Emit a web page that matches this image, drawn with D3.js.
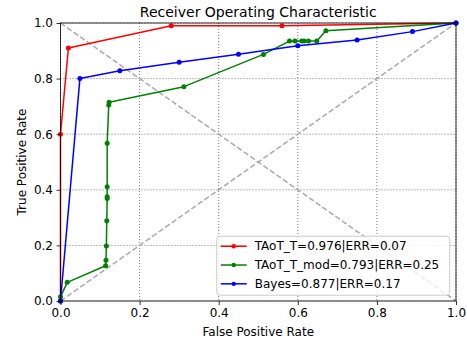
<!DOCTYPE html>
<html>
<head>
<meta charset="utf-8">
<script src="https://cdn.jsdelivr.net/npm/d3@7"></script>
<style>
  body { margin: 0; background: #fff; }
  svg { font-family: "DejaVu Sans", sans-serif; }
</style>
</head>
<body>
<svg id="chart" width="467" height="347"></svg>
<script>
"use strict";

// ROC points
const taotFpr = [0, 0, 0.02, 0.28, 0.56, 1];
const taotTpr = [0, 0.6, 0.91, 0.99, 0.99, 1];

const modFpr = [0, 0, 0.017, 0.114, 0.115, 0.116, 0.117, 0.118, 0.118, 0.118, 0.118, 0.122, 0.123, 0.312,
    0.513, 0.579, 0.593, 0.61, 0.616, 0.627, 0.648, 0.671, 1];
const modTpr = [0, 0.015, 0.067, 0.127, 0.147, 0.198, 0.289, 0.369, 0.375, 0.411, 0.567, 0.705, 0.715, 0.771,
    0.887, 0.935, 0.935, 0.935, 0.935, 0.935, 0.935, 0.972, 1];

const bayesFpr = [0, 0.049, 0.15, 0.3, 0.45, 0.6, 0.75, 0.89, 1];
const bayesTpr = [0, 0.8, 0.828, 0.859, 0.888, 0.918, 0.939, 0.969, 1];

const seriesNames = ["TAoT_T=0.976|ERR=0.07", "TAoT_T_mod=0.793|ERR=0.25", "Bayes=0.877|ERR=0.17"];
const seriesColors = ["#ff0000", "#008000", "#0000ff"];
const tickValues = [0, 0.2, 0.4, 0.6, 0.8, 1.0];

const zip = (xs, ys) => xs.map((x, i) => [x, ys[i]]);
const series = [
    zip(taotFpr, taotTpr),
    zip(modFpr, modTpr),
    zip(bayesFpr, bayesTpr)
];

const svg = d3.select("#chart");
const margin = { left: 60.5, right: 11, top: 23, bottom: 46 };
const width = 467 - margin.left - margin.right;
const height = 347 - margin.top - margin.bottom;

const x = d3.scaleLinear().domain([0, 1]).range([0, width]);
const y = d3.scaleLinear().domain([0, 1]).range([height, 0]);

const g = svg.append("g").attr("transform", `translate(${margin.left},${margin.top})`);

// grid
g.append("g")
    .selectAll("line")
    .data(tickValues)
    .join("line")
    .attr("x1", (d) => x(d)).attr("x2", (d) => x(d))
    .attr("y1", 0).attr("y2", height)
    .attr("stroke", "#555").attr("stroke-width", 0.8)
    .attr("stroke-dasharray", "1,2");
g.append("g")
    .selectAll("line")
    .data(tickValues)
    .join("line")
    .attr("y1", (d) => y(d)).attr("y2", (d) => y(d))
    .attr("x1", 0).attr("x2", width)
    .attr("stroke", "#555").attr("stroke-width", 0.8)
    .attr("stroke-dasharray", "1,2");

// reference diagonals
const diag = [[[0, 0], [1, 1]], [[0, 1], [1, 0]]];
const line = d3.line().x((d) => x(d[0])).y((d) => y(d[1]));
g.selectAll("path.diag")
    .data(diag)
    .join("path")
    .attr("class", "diag")
    .attr("d", line)
    .attr("fill", "none")
    .attr("stroke", "#aaaaaa")
    .attr("stroke-width", 1.5)
    .attr("stroke-dasharray", "5.5,2.5");

// series
series.forEach((pts, i) => {
    const sg = g.append("g");
    sg.append("path")
        .attr("d", line(pts))
        .attr("fill", "none")
        .attr("stroke", seriesColors[i])
        .attr("stroke-width", 1.5)
        .attr("stroke-linejoin", "round");
    sg.selectAll("circle")
        .data(pts)
        .join("circle")
        .attr("cx", (d) => x(d[0]))
        .attr("cy", (d) => y(d[1]))
        .attr("r", 2.5)
        .attr("fill", seriesColors[i]);
});

// axes
const fmt = d3.format(".1f");
const xAxis = g.append("g")
    .attr("transform", `translate(0,${height})`)
    .call(d3.axisBottom(x).tickValues(tickValues).tickFormat(fmt).tickSize(4).tickPadding(3));
const yAxis = g.append("g")
    .call(d3.axisLeft(y).tickValues(tickValues).tickFormat(fmt).tickSize(4).tickPadding(3.5));
[xAxis, yAxis].forEach((a) => {
    a.select(".domain").remove();
    a.selectAll("text")
        .attr("font-family", "DejaVu Sans, sans-serif")
        .attr("font-size", 12)
        .attr("fill", "#000");
    a.selectAll("line").attr("stroke", "#000").attr("stroke-width", 0.8);
});

// frame
g.append("rect")
    .attr("width", width).attr("height", height)
    .attr("fill", "none").attr("stroke", "#000").attr("stroke-width", 0.8);

// title and labels
svg.append("text")
    .attr("x", margin.left + width / 2).attr("y", 17)
    .attr("text-anchor", "middle").attr("font-size", 14)
    .text("Receiver Operating Characteristic");
svg.append("text")
    .attr("x", margin.left + width / 2).attr("y", 336)
    .attr("text-anchor", "middle").attr("font-size", 12)
    .text("False Positive Rate");
svg.append("text")
    .attr("transform", `translate(26,${margin.top + height / 2}) rotate(-90)`)
    .attr("text-anchor", "middle").attr("font-size", 12)
    .text("True Positive Rate");

// legend
const legend = g.append("g").attr("transform", `translate(${x(0.395)},${y(0.233)})`);
legend.append("rect")
    .attr("width", 233).attr("height", 59)
    .attr("rx", 3)
    .attr("fill", "#fff").attr("fill-opacity", 0.8)
    .attr("stroke", "#cccccc").attr("stroke-width", 1);
seriesNames.forEach((name, i) => {
    const row = legend.append("g").attr("transform", `translate(0,${10 + i * 18.8})`);
    row.append("line")
        .attr("x1", 4).attr("x2", 30)
        .attr("stroke", seriesColors[i]).attr("stroke-width", 1.5);
    row.append("circle").attr("cx", 17).attr("r", 2.2).attr("fill", seriesColors[i]);
    row.append("text")
        .attr("x", 38).attr("dy", "0.35em")
        .attr("font-size", 12)
        .text(name);
});
</script>
</body>
</html>
